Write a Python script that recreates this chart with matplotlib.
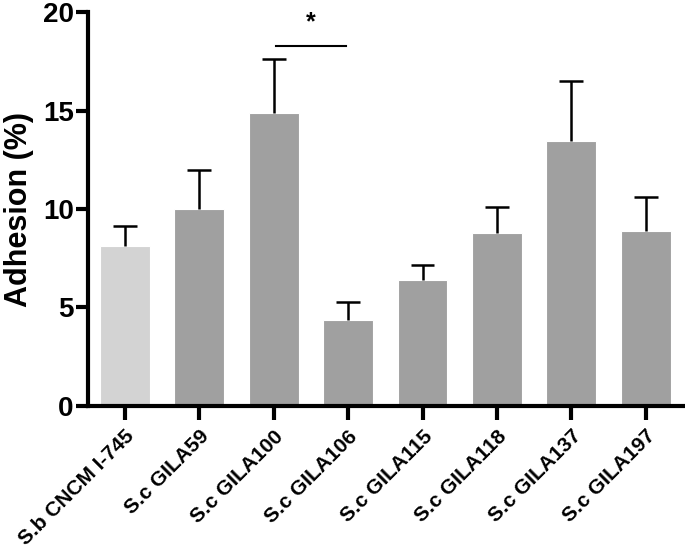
import matplotlib
matplotlib.use('Agg')
from matplotlib import pyplot

strains = ['S.b CNCM I-745', 'S.c GILA59', 'S.c GILA100', 'S.c GILA106',
           'S.c GILA115', 'S.c GILA118', 'S.c GILA137', 'S.c GILA197']
adhesion = [8.12, 10.0, 14.87, 4.37, 6.4, 8.78, 13.45, 8.88]
err_up = [1.02, 1.98, 2.73, 0.91, 0.76, 1.32, 3.05, 1.72]
bar_colors = ['#d3d3d3'] + ['#a0a0a0'] * 7

pyplot.rcParams['font.family'] = ['Liberation Sans', 'DejaVu Sans']
pyplot.rcParams['font.weight'] = 'bold'

fig = pyplot.figure(figsize=(6.85, 5.56), dpi=100)
ax = fig.add_axes([0.128, 0.270, 0.869, 0.708])

x = list(range(len(strains)))
ax.bar(x, adhesion, width=0.67, color=bar_colors, edgecolor='white', linewidth=0.8, zorder=2)

# upper-only error bars
tops = [a + e for a, e in zip(adhesion, err_up)]
ax.vlines(x, adhesion, tops, color='black', linewidth=1.8, zorder=3)
ax.hlines(tops, [i - 0.16 for i in x], [i + 0.16 for i in x], color='black', linewidth=1.8, zorder=3)

# significance marker between GILA100 and GILA106
ax.plot([2.03, 2.97], [18.3, 18.3], color='black', linewidth=1.5)
ax.text(2.5, 18.9, '*', ha='center', va='bottom', fontsize=18, fontweight='bold')

ax.set_xlim(-0.5, 7.5)
ax.set_ylim(0, 20)
ax.set_yticks([0, 5, 10, 15, 20])
ax.set_xticks(x)
ax.set_xticklabels(strains, rotation=45, ha='right', rotation_mode='anchor', fontsize=15, fontweight='bold')
for lab in ax.get_yticklabels():
    lab.set_fontsize(20)
    lab.set_fontweight('bold')
ax.set_ylabel('Adhesion (%)', fontsize=22, fontweight='bold', labelpad=6)

for side in ['top', 'right']:
    ax.spines[side].set_visible(False)
for side in ['left', 'bottom']:
    ax.spines[side].set_linewidth(3)
ax.spines['left'].set_bounds(0, 20)
ax.tick_params(axis='y', length=9, width=3, pad=1)
ax.tick_params(axis='x', length=10, width=3, pad=5)

fig.savefig('out.png', dpi=100)
